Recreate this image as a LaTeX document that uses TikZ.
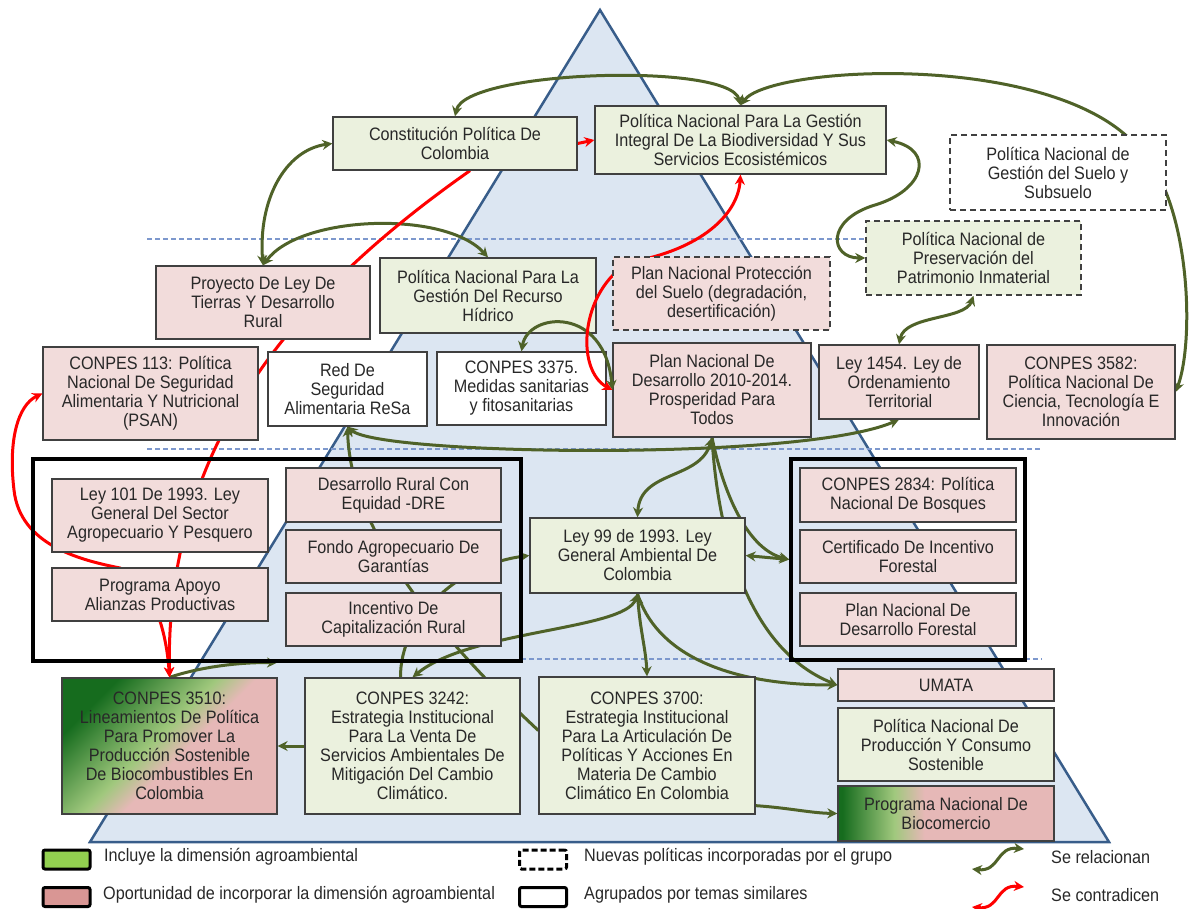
\documentclass[tikz,border=0pt]{standalone}
\usepackage{fontspec}
\setmainfont{Liberation Sans}[FakeStretch=0.9]
\usetikzlibrary{arrows.meta,calc}
\pgfdeclarelayer{bg}
\pgfsetlayers{bg,main}
\definecolor{bordc}{RGB}{64,64,64}
\definecolor{txt}{RGB}{40,40,40}
\definecolor{gfill}{RGB}{235,241,222}
\definecolor{pfill}{RGB}{242,220,219}
\definecolor{trifill}{RGB}{220,230,242}
\definecolor{tridraw}{RGB}{56,93,138}
\definecolor{guide}{RGB}{125,152,205}
\definecolor{olive}{RGB}{79,98,40}
\definecolor{dkg}{RGB}{22,108,30}
\definecolor{ltg}{RGB}{160,200,125}
\definecolor{pk2}{RGB}{230,184,183}
\definecolor{lgreen}{RGB}{146,208,80}
\definecolor{lpink}{RGB}{217,150,148}
\pgfdeclarehorizontalshading{agroA}{100bp}{color(0bp)=(dkg); color(26bp)=(dkg); color(46bp)=(ltg); color(54bp)=(pk2); color(100bp)=(pk2)}
\pgfdeclarehorizontalshading{agroB}{100bp}{color(0bp)=(dkg); color(26bp)=(dkg); color(38bp)=(ltg); color(45bp)=(pk2); color(100bp)=(pk2)}
\newcommand\bxfont{\fontsize{18}{19}\selectfont}
\tikzset{
  box/.style={draw=bordc, line width=1.3pt, align=center, inner sep=2pt, text=txt, font=\bxfont},
  gbox/.style={box, fill=gfill},
  pbox/.style={box, fill=pfill},
  wbox/.style={box, fill=white},
  dbox/.style={dash pattern=on 6pt off 4pt, line width=1.5pt},
  grp/.style={draw=black, line width=3.5pt, inner sep=0pt},
  rel/.style={draw=olive, line width=3pt},
  contra/.style={draw=red, line width=3pt},
  legrect/.style={draw=black, line width=3pt, rounded corners=2pt, inner sep=0pt, minimum width=47pt, minimum height=19pt},
  legtxt/.style={anchor=west, text=txt, font=\bxfont, inner sep=0pt},
  guideline/.style={draw=guide, line width=1.3pt, dash pattern=on 5pt off 3pt}
}
\begin{document}
\begin{tikzpicture}[x=1pt,y=-1pt,>={Stealth[length=10pt,width=10pt]}]
\useasboundingbox (0,0) rectangle (1191,909);
% nodes
\node[gbox, minimum width=244pt, minimum height=53pt] (con) at (455,143.5) {Constitución Política De\\Colombia};
\node[gbox, minimum width=291pt, minimum height=68pt] (bio) at (740.5,140) {Política Nacional Para La Gestión\\Integral De La Biodiversidad Y Sus\\Servicios Ecosistémicos};
\node[wbox, dbox, minimum width=216pt, minimum height=75pt] (suelo) at (1058,172.5) {Política Nacional de\\Gestión del Suelo y\\Subsuelo};
\node[gbox, dbox, minimum width=215pt, minimum height=74pt] (pres) at (973.5,258) {Política Nacional de\\Preservación del\\Patrimonio Inmaterial};
\node[pbox, minimum width=214pt, minimum height=73pt] (pro) at (263,302.5) {Proyecto De Ley De\\Tierras Y Desarrollo\\Rural};
\node[gbox, minimum width=216pt, minimum height=75pt] (rh) at (488,295.5) {Política Nacional Para La\\Gestión Del Recurso\\Hídrico};
\node[pbox, minimum width=215pt, minimum height=93pt] (c113) at (150.5,393.5) {CONPES 113: Política\\Nacional De Seguridad\\Alimentaria Y Nutricional\\(PSAN)};
\node[wbox, minimum width=159pt, minimum height=74pt] (resa) at (347.5,389) {Red De\\Seguridad\\Alimentaria ReSa};
\node[wbox, minimum width=169pt, minimum height=73pt] (c3375) at (521.5,388.5) {CONPES 3375.\\Medidas sanitarias\\y fitosanitarias};
\node[pbox, minimum width=198pt, minimum height=94pt] (pnd) at (712,390) {Plan Nacional De\\Desarrollo 2010-2014.\\Prosperidad Para\\Todos};
% connectors lying over the water-policy box but under the soil-protection box
\draw[rel,<->] (c3375.north) .. controls (528,312) and (605,305) .. (pnd.west);
\draw[contra,<->] (bio.south) .. controls (738,215) and (700,250) .. (630,262) .. controls (580,290) and (575,370) .. (pnd.west);
\node[pbox, dbox, minimum width=217pt, minimum height=73pt] (prot) at (721.5,293.5) {Plan Nacional Protección\\del Suelo (degradación,\\desertificación)};
\node[pbox, minimum width=160pt, minimum height=74pt] (l1454) at (899,382) {Ley 1454. Ley de\\Ordenamiento\\Territorial};
\node[pbox, minimum width=188pt, minimum height=94pt] (c3582) at (1081,392) {CONPES 3582:\\Política Nacional De\\Ciencia, Tecnología E\\Innovación};
\node[pbox, minimum width=216pt, minimum height=73pt] (l101) at (160,515.5) {Ley 101 De 1993. Ley\\General Del Sector\\Agropecuario Y Pesquero};
\node[pbox, minimum width=216pt, minimum height=53pt] (paap) at (160,594.5) {Programa Apoyo\\Alianzas Productivas};
\node[pbox, minimum width=215pt, minimum height=54pt] (dre) at (393.5,495) {Desarrollo Rural Con\\Equidad -DRE};
\node[pbox, minimum width=215pt, minimum height=53pt] (fag) at (393.5,556.5) {Fondo Agropecuario De\\Garantías};
\node[pbox, minimum width=215pt, minimum height=53pt] (icr) at (393.5,619.5) {Incentivo De\\Capitalización Rural};
\node[gbox, minimum width=215pt, minimum height=75pt] (l99) at (637.5,555.5) {Ley 99 de 1993. Ley\\General Ambiental De\\Colombia};
\node[pbox, minimum width=216pt, minimum height=54pt] (c2834) at (908,495) {CONPES 2834: Política\\Nacional De Bosques};
\node[pbox, minimum width=216pt, minimum height=53pt] (cif) at (908,556.5) {Certificado De Incentivo\\Forestal};
\node[pbox, minimum width=216pt, minimum height=53pt] (pndf) at (908,619.5) {Plan Nacional De\\Desarrollo Forestal};
\node[box, shade, shading=agroA, shading angle=-45, minimum width=215pt, minimum height=136pt] (c3510) at (169.5,746) {CONPES 3510:\\Lineamientos De Política\\Para Promover La\\Producción Sostenible\\De Biocombustibles En\\Colombia};
\node[gbox, minimum width=215pt, minimum height=136pt] (c3242) at (412.5,746) {CONPES 3242:\\Estrategia Institucional\\Para La Venta De\\Servicios Ambientales De\\Mitigación Del Cambio\\Climático.};
\node[gbox, minimum width=216pt, minimum height=137pt] (c3700) at (647,745.5) {CONPES 3700:\\Estrategia Institucional\\Para La Articulación De\\Políticas Y Acciones En\\Materia De Cambio\\Climático En Colombia};
\node[pbox, minimum width=216pt, minimum height=32pt] (umata) at (946,685) {UMATA};
\node[gbox, minimum width=216pt, minimum height=73pt] (pcs) at (946,744.5) {Política Nacional De\\Producción Y Consumo\\Sostenible};
\node[box, shade, shading=agroB, shading angle=0, minimum width=216pt, minimum height=55pt] (bioc) at (946,813.5) {Programa Nacional De\\Biocomercio};
% groups
\node[grp, minimum width=488pt, minimum height=202pt] (grpL) at (277,560) {};
\node[grp, minimum width=234pt, minimum height=201pt] (grpR) at (908,559.5) {};
% legend
\node[legrect, fill=lgreen] (lg1) at (66.5,859.5) {};
\node[legrect, fill=lpink] (lg2) at (66.5,897) {};
\node[legrect, fill=white, dash pattern=on 6pt off 3pt] (lg3) at (543,859.5) {};
\node[legrect, fill=white] (lg4) at (543,897) {};
\node[legtxt] (lt1) at (104,857) {Incluye la dimensión agroambiental};
\node[legtxt] (lt2) at (103,895) {Oportunidad de incorporar la dimensión agroambiental};
\node[legtxt] (lt3) at (584,857) {Nuevas políticas incorporadas por el grupo};
\node[legtxt] (lt4) at (584,895) {Agrupados por temas similares};
\node[legtxt] (lt5) at (1051,857) {Se relacionan};
\node[legtxt] (lt6) at (1051,895) {Se contradicen};
\coordinate (la1) at (972,869);
\coordinate (la2) at (1024,849);
\coordinate (lb1) at (972,907);
\coordinate (lb2) at (1024,887);
\draw[rel,<->] (la1) .. controls (1000,872) and (996,846) .. (la2);
\draw[contra,<->] (lb1) .. controls (1000,910) and (996,884) .. (lb2);

\begin{pgfonlayer}{bg}
\draw[fill=trifill, draw=tridraw, line width=2.5pt, line join=miter] (600,10) -- (1109,842) -- (90,842) -- cycle;
\draw[guideline] (147,239) -- (866,239);
\draw[guideline] (147,449) -- (1042,449);
\draw[guideline] (521,659) -- (1042,659);
% green: related
\draw[rel,<->] (con.north) .. controls (465,70) and (730,62) .. (bio.north);
\draw[rel,<->] (bio.north) .. controls (770,65) and (1060,50) .. (1140,150) .. controls (1190,200) and (1195,340) .. (c3582.east);
\draw[rel,<->] (bio.east) .. controls (935,150) and (925,190) .. (875,205) .. controls (825,220) and (830,258) .. (pres.west);
\draw[rel,<->] (pres.south) .. controls (965,320) and (905,315) .. (l1454.north);
\draw[rel,<->] (pro.north) .. controls (258,200) and (285,150) .. (con.west);
\draw[rel,<->] (pro.north) .. controls (300,215) and (445,210) .. (rh.north);
\draw[rel,<->] (resa.south) .. controls (380,455) and (800,462) .. (l1454.south);
\draw[rel,<->] (pnd.south) .. controls (700,480) and (640,470) .. (l99.north);
\draw[rel,->] (pnd.south) .. controls (718,540) and (750,650) .. (umata.west);
\draw[rel,->] (pnd.south) .. controls (725,500) and (750,550) .. (grpR.west);
\draw[rel,<->] (l99.east) -- (grpR.west);
\draw[rel,<-] (resa.south) .. controls (350,520) and (420,620) .. ($(c3700.west)+(0,-15)$);
\draw[rel,->] ($(c3242.north)+(-12,0)$) .. controls (400,620) and (455,565) .. (l99.west);
\draw[rel,<->] (l99.south) .. controls (625,630) and (470,630) .. (c3242.north);
\draw[rel,<->] (l99.south) .. controls (640,630) and (646,650) .. (c3700.north);
\draw[rel,->] (l99.south) .. controls (655,650) and (720,685) .. (umata.west);
\draw[rel,->] ($(c3700.south east)+(0,-9)$) .. controls (790,808) and (810,813) .. (bioc.west);
\draw[rel,->] (c3242.west) -- (c3510.east);
\draw[rel,->] (c3510.north) .. controls (200,667) and (240,662) .. (grpL.south);
% red: contradict
\draw[contra,->] (con.east) -- (bio.west);
\draw[contra,->] ($(con.south)+(15,0)$) .. controls (300,290) and (165,440) .. (c3510.north);
\draw[contra,<->] (c113.west) .. controls (18,405) and (8,440) .. (14,490) .. controls (20,545) and (80,560) .. (120,568) .. controls (150,580) and (166,625) .. (c3510.north);
\end{pgfonlayer}
\end{tikzpicture}
\end{document}
